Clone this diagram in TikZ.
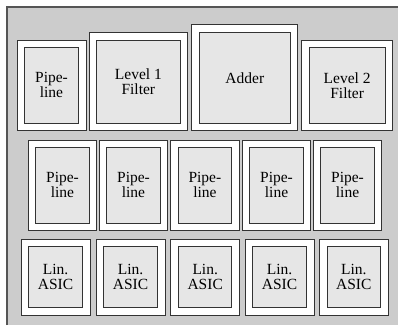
\documentclass[tikz,border=0pt]{standalone}
\usepackage{fontspec}
\setmainfont{Liberation Serif}
\definecolor{panelgray}{HTML}{CCCCCC}
\definecolor{innergray}{HTML}{E6E6E6}
\definecolor{framecol}{HTML}{555555}
\definecolor{linecol}{HTML}{333333}
\tikzset{
  outerbox/.style={draw=linecol, line width=1pt, fill=white, inner sep=0pt, outer sep=0pt, rectangle},
  innerbox/.style={draw=linecol, line width=0.9pt, fill=innergray, inner sep=0pt, outer sep=0pt, rectangle,
    align=center, font=\fontsize{15.5}{14.8}\selectfont, text=black},
}
\begin{document}
\begin{tikzpicture}[x=1pt, y=-1pt]
\useasboundingbox (0,0) rectangle (398,325);
\fill[panelgray] (7,7) rectangle (398,325);
\draw[framecol, line width=2pt] (7,325) -- (7,7) -- (398,7);
% Row 1
\node[outerbox, minimum width=68.7pt, minimum height=90pt] (o1) at (51.65,85) {};
\node[innerbox, minimum width=53.6pt, minimum height=76pt] (m1) at (51.5,85.3) {Pipe-\\line};
\node[outerbox, minimum width=97.7pt, minimum height=97.7pt] (o2) at (138.15,81.15) {};
\node[innerbox, minimum width=83.3pt, minimum height=83.3pt] (m2) at (138.35,81.65) {Level 1\\Filter};
\node[outerbox, minimum width=106pt, minimum height=105.7pt] (o3) at (244.7,77.15) {};
\node[innerbox, minimum width=91.7pt, minimum height=91pt] (m3) at (244.85,77.8) {Adder};
\node[outerbox, minimum width=91pt, minimum height=90pt] (o4) at (347.2,85) {};
\node[innerbox, minimum width=75.7pt, minimum height=75.6pt] (m4) at (347.15,85.5) {Level 2\\Filter};
% Row 2
\foreach \i/\x in {1/28.3, 2/99.3, 3/170.7, 4/242.3, 5/313.3} {
  \node[outerbox, minimum width=68.4pt, minimum height=90.7pt] (po\i) at (\x+34.2,185.35) {};
  \node[innerbox, minimum width=53.6pt, minimum height=76pt] (pi\i) at (\x+34.2,185.3) {Pipe-\\line};
}
% Row 3
\foreach \i/\x in {1/21, 2/96, 3/170.7, 4/245, 5/319.3} {
  \node[outerbox, minimum width=69pt, minimum height=76pt] (ao\i) at (\x+34.5,277) {};
  \node[innerbox, minimum width=53.3pt, minimum height=61pt] (ai\i) at (\x+34.5,277.2) {Lin.\\ASIC};
}
\end{tikzpicture}
\end{document}
